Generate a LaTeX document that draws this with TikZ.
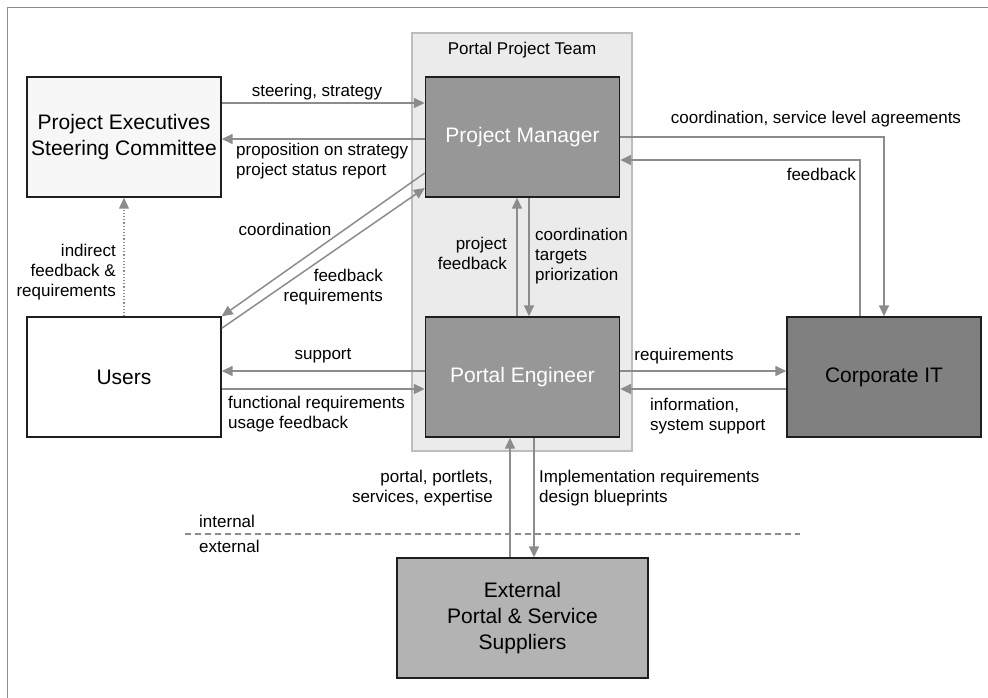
\documentclass[tikz,border=0pt]{standalone}
\usepackage{fontspec}
\setmainfont{Liberation Sans}
\usetikzlibrary{arrows.meta}
\definecolor{linegray}{HTML}{8C8C8C}
\definecolor{teamfill}{HTML}{EBEBEB}
\definecolor{teamedge}{HTML}{BDBDBD}
\definecolor{midgray}{HTML}{979797}
\definecolor{darkgray}{HTML}{808080}
\definecolor{lightgray}{HTML}{B3B3B3}
\definecolor{boxedge}{HTML}{1E1E1E}
\tikzset{
  box/.style={draw=boxedge, line width=1.4pt, minimum width=194pt, minimum height=120pt,
    inner sep=0pt, align=center, font=\fontsize{21}{26}\selectfont},
  lbl/.style={inner sep=0pt, font=\fontsize{17}{20}\selectfont},
  flow/.style={draw=linegray, line width=1.5pt, -{Triangle[length=11pt,width=10pt]}},
}
\begin{document}
\begin{tikzpicture}[x=1pt,y=-1pt]
\useasboundingbox (0,0) rectangle (988,698);
% partial outer frame
\draw[linegray, line width=1.5pt] (7.5,698) -- (7.5,7.5) -- (988,7.5);

% project team panel
\node[draw=teamedge, fill=teamfill, line width=1.2pt, minimum width=220pt, minimum height=418pt, inner sep=0pt] (team) at (522,242) {};
\node[lbl] (teamtitle) at (522,50) {Portal Project Team};

% actors
\node[box, fill=white!97!black] (pex) at (124,137) {Project Executives\\Steering Committee};
\node[box, fill=midgray, text=white] (pm) at (522.5,137) {Project Manager};
\node[box, fill=white] (users) at (124,377) {Users};
\node[box, fill=midgray, text=white] (pe) at (522.5,377) {Portal Engineer};
\node[box, fill=darkgray] (cit) at (884,377) {Corporate IT};
\node[box, fill=lightgray, minimum width=251pt] (ext) at (522.5,618) {External\\Portal \& Service\\Suppliers};

% executives <-> manager
\draw[flow] ([yshift=34pt]pex.east) -- ([yshift=34pt]pm.west);
\node[lbl] (l1) at (317,92) {steering, strategy};
\draw[flow] ([yshift=-2pt]pm.west) -- ([yshift=-2pt]pex.east);
\node[lbl, anchor=west, align=left] (l2) at (236,161) {proposition on strategy\\project status report};

% manager <-> users
\draw[flow] ([yshift=-36pt]pm.west) -- (users.north east);
\node[lbl] (l3) at (285,229) {coordination};
\draw[flow] ([yshift=-12pt]users.north east) -- ([yshift=-51pt]pm.west);
\node[lbl, anchor=east, align=right] (l4) at (383,287) {feedback\\requirements};

% users -> executives
\draw[draw=linegray, line width=1.2pt, dotted, -{Triangle[length=11pt,width=10pt]}] (users.north) -- (pex.south);
\node[lbl, anchor=east, align=right] (l5) at (116,272) {indirect\\feedback \&\\requirements};

% manager <-> engineer
\draw[flow] ([xshift=-5.5pt]pe.north) -- ([xshift=-5.5pt]pm.south);
\node[lbl, anchor=east, align=right] (l6) at (507,253) {project\\feedback};
\draw[flow] ([xshift=6.5pt]pm.south) -- ([xshift=6.5pt]pe.north);
\node[lbl, anchor=west, align=left] (l7) at (535,256) {coordination\\targets\\priorization};

% manager <-> corporate IT
\draw[flow] (pm.east) -| (cit.north);
\node[lbl] (l8) at (816,119) {coordination, service level agreements};
\draw[flow] ([xshift=-24pt]cit.north) |- ([yshift=-23pt]pm.east);
\node[lbl, anchor=east] (l9) at (856,174) {feedback};

% engineer <-> users
\draw[flow] ([yshift=6pt]pe.west) -- ([yshift=6pt]users.east);
\node[lbl] (l10) at (323,356) {support};
\draw[flow] ([yshift=-12pt]users.east) -- ([yshift=-12pt]pe.west);
\node[lbl, anchor=west, align=left] (l11) at (228,414) {functional requirements\\usage feedback};

% engineer <-> corporate IT
\draw[flow] ([yshift=6pt]pe.east) -- ([yshift=6pt]cit.west);
\node[lbl] (l12) at (684,356) {requirements};
\draw[flow] ([yshift=-12pt]cit.west) -- ([yshift=-12pt]pe.east);
\node[lbl, anchor=west, align=left] (l13) at (650,416) {information,\\system support};

% engineer <-> external suppliers
\draw[flow] ([xshift=-12.5pt]ext.north) -- ([xshift=-12.5pt]pe.south);
\node[lbl, anchor=east, align=right] (l14) at (493,488) {portal, portlets,\\services, expertise};
\draw[flow] ([xshift=11.5pt]pe.south) -- ([xshift=11.5pt]ext.north);
\node[lbl, anchor=west, align=left] (l15) at (539,488) {Implementation requirements\\design blueprints};

% internal / external boundary
\coordinate (bl) at (185,534);
\coordinate (br) at (800,534);
\draw[linegray, line width=1.2pt, dash pattern=on 6pt off 4pt] (bl) -- (br);
\node[lbl, anchor=west] (lint) at (199,521) {internal};
\node[lbl, anchor=west] (lext) at (199,546) {external};
\end{tikzpicture}
\end{document}
